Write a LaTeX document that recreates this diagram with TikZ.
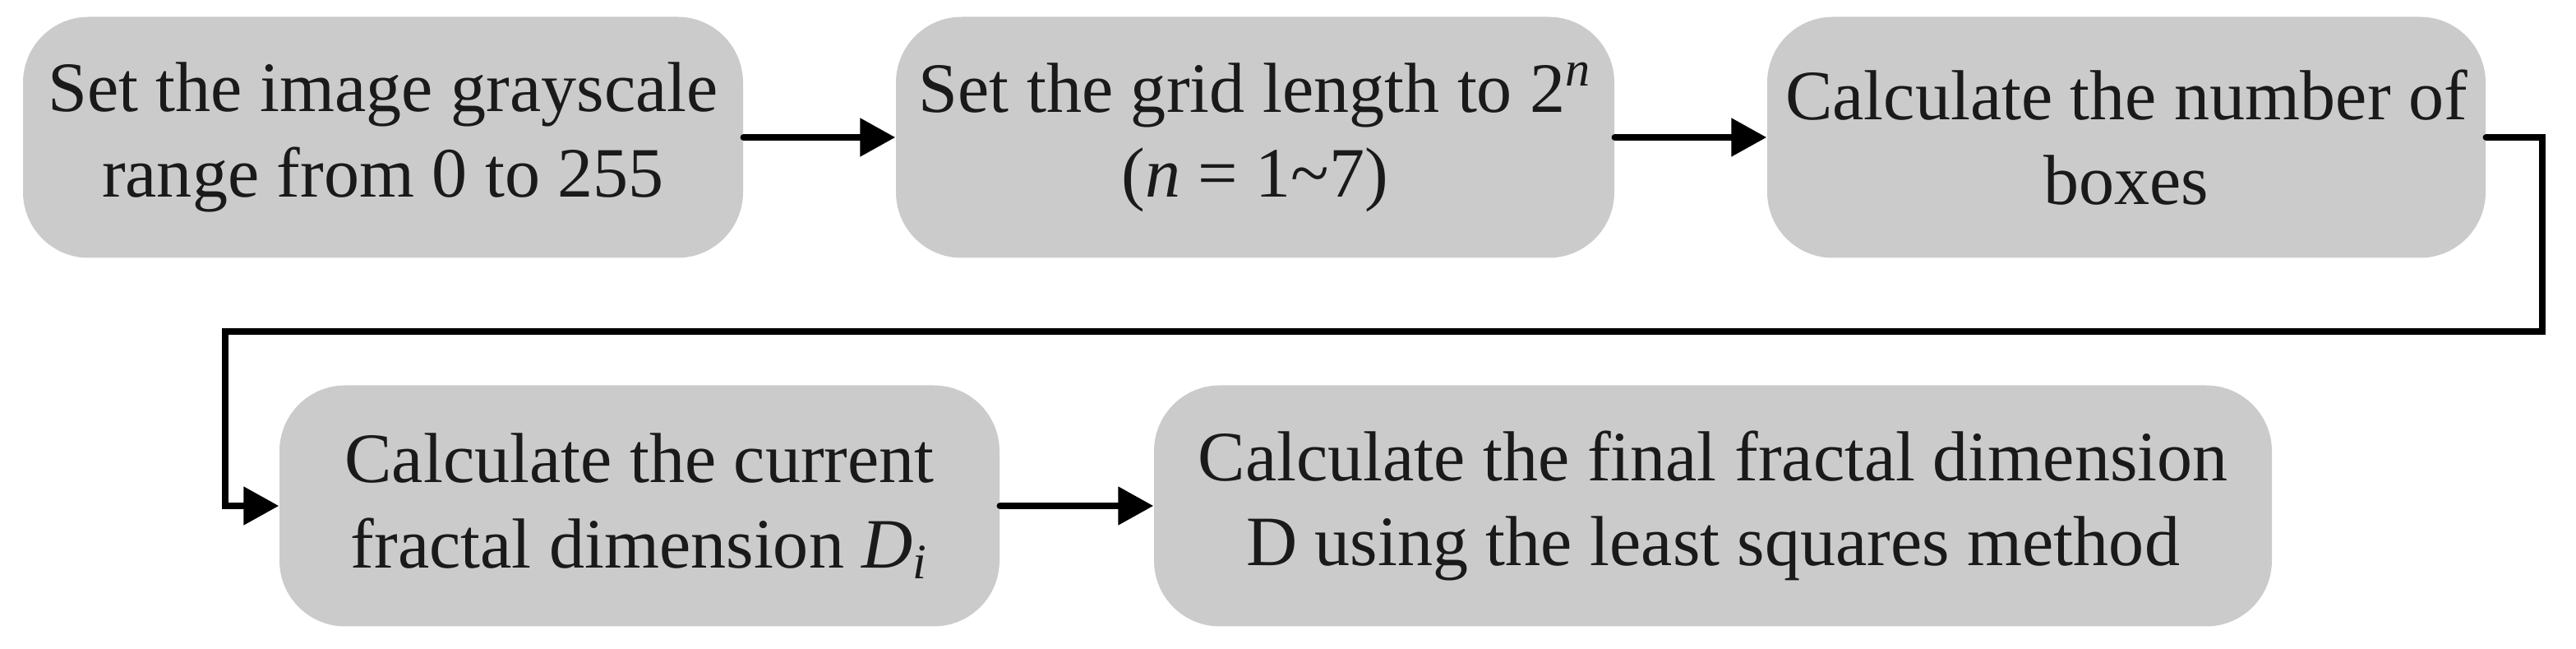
\documentclass[tikz,border=0pt]{standalone}
\usepackage{fontspec}
\setmainfont{Liberation Serif}
\usetikzlibrary{arrows.meta}
\definecolor{boxfill}{HTML}{CBCBCB}
\definecolor{txt}{HTML}{1A1A1A}
\tikzset{
  stepbox/.style={fill=boxfill, draw=none, rounded corners=0.8cm, minimum height=2.93cm,
    inner sep=0pt, align=center, text=txt, font=\fontsize{24.5}{29.5}\selectfont},
  conn/.style={line width=2.36pt, line cap=round, line join=miter,
    -{Triangle[length=0.43cm,width=0.45cm]}},
}
\begin{document}
\begin{tikzpicture}
\useasboundingbox (0,0) rectangle (31.34,-7.89);
\node[stepbox, minimum width=8.76cm] (b1) at (4.66,-1.67) {Set the image grayscale\\range from 0 to 255};
\node[stepbox, minimum width=8.74cm] (b2) at (15.27,-1.67) {Set the grid length to 2\textsuperscript{\textit{n}}\\(\textit{n} = 1\textasciitilde7)};
\node[stepbox, minimum width=8.74cm] (b3) at (25.87,-1.67) {Calculate the number of\\boxes};
\node[stepbox, minimum width=8.76cm] (b4) at (7.78,-6.15) {Calculate the current\\fractal dimension \textit{D}\textsubscript{\textit{i}}};
\node[stepbox, minimum width=13.60cm] (b5) at (20.84,-6.15) {Calculate the final fractal dimension\\D using the least squares method};
\coordinate (c1) at (30.93,-1.67);
\coordinate (c2) at (30.93,-4.03);
\coordinate (c3) at (2.74,-4.03);
\coordinate (c4) at (2.74,-6.15);
\draw[conn] (b1) -- (b2);
\draw[conn] (b2) -- (b3);
\draw[conn] (b3.east) -- (c1) -- (c2) -- (c3) -- (c4) -- (b4.west);
\draw[conn] (b4) -- (b5);
\end{tikzpicture}
\end{document}
